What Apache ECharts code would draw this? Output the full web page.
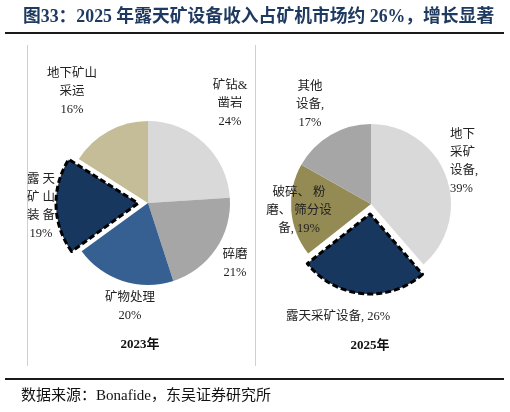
<!DOCTYPE html>
<html>
<head>
<meta charset="utf-8">
<script src="https://cdn.jsdelivr.net/npm/echarts@6/dist/echarts.min.js"></script>
<style>
  html, body { margin: 0; padding: 0; background: #fff; }
  #chart { width: 510px; height: 412px; }
</style>
</head>
<body>
<div id="chart"></div>
<script>
// 2023 年矿机市场结构（顺时针，从 12 点开始）
const names2023 = ['矿钻&凿岩', '碎磨', '矿物处理', '露天矿山装备', '地下矿山采运']
const values2023 = [24, 21, 20, 19, 16]
const labels2023 = ['矿钻&\n凿岩', '碎磨', '矿物处理', '露 天\n矿 山\n装 备', '地下矿山\n采运']
const colors2023 = ['#d9d9d9', '#a6a6a6', '#376092', '#17375e', '#c4bd97']

// 2025 年
const names2025 = ['地下采矿设备', '露天采矿设备', '破碎、粉磨、筛分设备', '其他设备']
const values2025 = [39, 26, 19, 17]
const labels2025 = ['地下\n采矿\n设备,\n', '露天采矿设备, ', '破碎、 粉\n磨、 筛分设\n备, ', '其他\n设备,\n']
const colors2025 = ['#d9d9d9', '#17375e', '#948a54', '#a6a6a6']

const highlight = ['露天矿山装备', '露天采矿设备']
const explode = 10

// 标签位置（像素）
const labelPos2023 = [[230, 104, 'center'], [235, 264, 'center'], [130, 307, 'center'], [41, 207, 'center'], [72, 92, 'center']]
const labelPos2025 = [[450, 162, 'left'], [338, 317, 'center'], [299, 211, 'center'], [310, 105, 'center']]

const serif = "'Liberation Serif', 'Noto Sans CJK SC', serif"
const clear = 'rgba(0,0,0,0)'

function labelText(labels, values, i) {
  const l = labels[i]
  return l + (l.endsWith(' ') || l.endsWith('\n') ? '' : '\n') + values[i] + '%'
}

// 底层：普通扇区 + 全部标签（突出扇区留空）
function baseData(names, values, labels, colors) {
  return names.map((n, i) => ({
    name: n,
    value: values[i],
    itemStyle: { color: highlight.includes(n) ? clear : colors[i], borderWidth: 0 },
    label: { formatter: labelText(labels, values, i) },
  }))
}

// 上层：只画突出扇区，带黑色虚线边框
function popData(names, values, colors) {
  return names.map((n, i) => ({
    name: n,
    value: values[i],
    itemStyle: highlight.includes(n)
      ? { color: colors[i], borderColor: '#000', borderWidth: 3, borderType: [6, 3] }
      : { color: clear, borderWidth: 0 },
  }))
}

// 沿突出扇区的中线方向平移圆心
function popCenter(center, names, values) {
  const total = values.reduce((a, b) => a + b, 0)
  let before = 0
  for (let i = 0; i < names.length; i++) {
    if (highlight.includes(names[i])) {
      const mid = (before + values[i] / 2) / total * Math.PI * 2
      return [center[0] + Math.sin(mid) * explode, center[1] - Math.cos(mid) * explode]
    }
    before += values[i]
  }
  return center
}

function layoutFor(pos) {
  return function (params) {
    const p = pos[params.dataIndex]
    return { x: p[0], y: p[1], align: p[2], verticalAlign: 'middle' }
  }
}

const pieBase = {
  type: 'pie',
  startAngle: 90,
  clockwise: true,
  animation: false,
  silent: true,
  avoidLabelOverlap: false,
  labelLine: { show: false },
  emphasis: { disabled: true },
  label: {
    show: true,
    position: 'outside',
    color: '#222',
    fontSize: 12.5,
    lineHeight: 18,
    fontFamily: serif,
    overflow: 'none',
  },
}

const center2023 = [148, 203]
const center2025 = [371, 204]

const chart = echarts.init(document.getElementById('chart'))
chart.setOption({
  backgroundColor: '#fff',
  animation: false,
  title: [
    {
      text: '图33：2025 年露天矿设备收入占矿机市场约 26%，增长显著',
      left: 18, top: 4,
      textStyle: { fontSize: 17.8, fontWeight: 'bold', color: '#1f3a60', fontFamily: serif },
    },
    {
      text: '2023年', left: 135, top: 333, textAlign: 'center',
      textStyle: { fontSize: 13, fontWeight: 'bold', color: '#111', fontFamily: serif },
    },
    {
      text: '2025年', left: 365, top: 334, textAlign: 'center',
      textStyle: { fontSize: 13, fontWeight: 'bold', color: '#111', fontFamily: serif },
    },
    {
      text: '数据来源：Bonafide，东吴证券研究所',
      left: 16, top: 384,
      textStyle: { fontSize: 15, fontWeight: 'normal', color: '#111', fontFamily: serif },
    },
  ],
  graphic: [
    { type: 'line', shape: { x1: 5, y1: 33, x2: 504, y2: 33 }, style: { stroke: '#1a1a1a', lineWidth: 2 } },
    { type: 'line', shape: { x1: 5, y1: 379, x2: 504, y2: 379 }, style: { stroke: '#1a1a1a', lineWidth: 2 } },
    { type: 'line', shape: { x1: 27.5, y1: 45, x2: 27.5, y2: 366 }, style: { stroke: '#d0d0d0', lineWidth: 1 } },
    { type: 'line', shape: { x1: 255.5, y1: 45, x2: 255.5, y2: 366 }, style: { stroke: '#d0d0d0', lineWidth: 1 } },
  ],
  series: [
    Object.assign({}, pieBase, {
      name: '2023-pop',
      z: 2,
      center: popCenter(center2023, names2023, values2023),
      radius: [0, 82],
      label: { show: false },
      data: popData(names2023, values2023, colors2023),
    }),
    Object.assign({}, pieBase, {
      name: '2025-pop',
      z: 2,
      center: popCenter(center2025, names2025, values2025),
      radius: [0, 80],
      label: { show: false },
      data: popData(names2025, values2025, colors2025),
    }),
    Object.assign({}, pieBase, {
      name: '2023',
      z: 3,
      center: center2023,
      radius: [0, 82],
      labelLayout: layoutFor(labelPos2023),
      data: baseData(names2023, values2023, labels2023, colors2023),
    }),
    Object.assign({}, pieBase, {
      name: '2025',
      z: 3,
      center: center2025,
      radius: [0, 80],
      labelLayout: layoutFor(labelPos2025),
      data: baseData(names2025, values2025, labels2025, colors2025),
    }),
  ],
})
</script>
</body>
</html>
